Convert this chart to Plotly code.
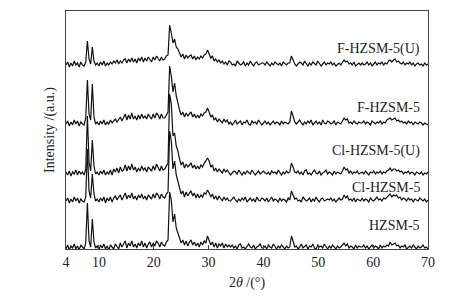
import plotly.graph_objects as go

# XRD patterns sampled every 0.3 deg from 4.0 to 70.0 (221 points), intensity in a.u.
two_theta_start = 4.0
two_theta_step = 0.3

sample_names = ['HZSM-5', 'Cl-HZSM-5', 'Cl-HZSM-5(U)', 'F-HZSM-5', 'F-HZSM-5(U)']

hzsm5 = [
    3, 7, 2, 6, 4, 8, 3, 6, 2, 7, 5, 3, 9, 49, 11, 5, 33, 10, 4, 6,
    2, 7, 4, 8, 3, 6, 2, 7, 5, 3, 8, 6, 3, 9, 5, 8, 11, 4, 9, 6,
    11, 5, 8, 4, 9, 6, 11, 5, 9, 4, 8, 10, 5, 9, 6, 11, 9, 5, 10, 7,
    6, 10, 12, 60, 52, 30, 38, 24, 20, 14, 9, 12, 7, 11, 6, 10, 12, 7, 10, 6,
    9, 5, 10, 7, 11, 9, 16, 11, 7, 10, 5, 9, 4, 8, 6, 9, 4, 8, 5, 7,
    5, 7, 4, 6, 3, 7, 8, 4, 5, 3, 6, 8, 5, 4, 7, 3, 5, 6, 8, 4,
    4, 6, 3, 7, 5, 4, 8, 5, 3, 6, 4, 7, 5, 3, 6, 4, 5, 16, 11, 5,
    6, 3, 5, 8, 4, 6, 7, 3, 6, 5, 8, 4, 3, 7, 5, 6, 4, 8, 5, 3,
    6, 4, 7, 5, 3, 6, 4, 5, 7, 9, 6, 8, 4, 6, 5, 3, 7, 4, 6, 5,
    5, 7, 4, 6, 3, 5, 7, 4, 6, 5, 3, 7, 4, 6, 5, 7, 6, 10, 7, 8,
    9, 6, 7, 4, 6, 5, 7, 3, 5, 6, 4, 7, 5, 3, 6, 4, 5, 7, 4, 5, 3,
]

cl_hzsm5 = [
    4, 7, 2, 6, 3, 8, 4, 7, 2, 6, 4, 3, 8, 56, 14, 7, 31, 11, 4, 6,
    3, 7, 4, 8, 2, 7, 4, 8, 3, 7, 9, 5, 8, 10, 5, 9, 12, 6, 10, 7,
    12, 6, 9, 5, 10, 7, 11, 6, 9, 5, 10, 8, 6, 11, 7, 12, 10, 6, 11, 8,
    7, 11, 13, 74, 64, 36, 44, 30, 24, 17, 11, 14, 8, 13, 9, 12, 14, 9, 12, 7,
    11, 7, 10, 8, 12, 11, 15, 12, 8, 11, 6, 9, 5, 9, 7, 4, 8, 5, 7, 4,
    4, 6, 8, 5, 3, 6, 4, 7, 5, 8, 3, 5, 7, 4, 6, 3, 8, 5, 4, 7,
    6, 4, 7, 3, 5, 8, 4, 6, 5, 3, 7, 4, 6, 5, 3, 7, 5, 14, 10, 6,
    7, 4, 5, 3, 8, 6, 4, 5, 7, 3, 6, 4, 8, 5, 3, 6, 7, 4, 5, 6,
    5, 7, 4, 6, 3, 5, 7, 5, 6, 10, 7, 9, 5, 6, 4, 7, 3, 6, 5, 4,
    7, 4, 6, 5, 3, 7, 5, 4, 6, 8, 5, 6, 4, 7, 6, 8, 9, 11, 8, 10,
    9, 10, 7, 8, 5, 7, 6, 4, 7, 5, 6, 3, 6, 5, 4, 7, 5, 4, 6, 3, 5,
]

cl_hzsm5_u = [
    6, 3, 7, 2, 6, 4, 8, 3, 7, 4, 6, 3, 9, 62, 16, 7, 38, 12, 4, 6,
    3, 7, 4, 8, 3, 6, 4, 8, 3, 9, 6, 10, 5, 11, 7, 8, 13, 7, 12, 8,
    14, 8, 11, 6, 10, 7, 12, 8, 10, 6, 11, 9, 7, 12, 8, 14, 11, 7, 12, 8,
    9, 12, 15, 84, 74, 42, 45, 32, 27, 19, 13, 16, 10, 14, 11, 13, 15, 10, 13, 9,
    12, 9, 13, 11, 15, 17, 20, 17, 11, 13, 7, 10, 6, 9, 7, 5, 9, 6, 8, 5,
    3, 5, 7, 6, 4, 8, 5, 3, 6, 4, 7, 5, 4, 8, 6, 3, 5, 7, 4, 6,
    7, 5, 4, 6, 3, 7, 5, 6, 4, 8, 5, 3, 6, 4, 7, 5, 6, 15, 11, 6,
    5, 7, 4, 6, 3, 7, 8, 4, 5, 3, 6, 8, 5, 4, 7, 3, 5, 6, 8, 4,
    6, 5, 3, 7, 4, 6, 5, 4, 7, 11, 8, 9, 5, 7, 4, 6, 5, 7, 4, 5,
    6, 4, 7, 5, 3, 6, 5, 7, 4, 6, 5, 7, 4, 6, 5, 7, 8, 10, 7, 9,
    9, 7, 8, 6, 7, 4, 6, 5, 7, 4, 6, 5, 3, 6, 5, 4, 6, 3, 5, 4, 6,
]

f_hzsm5 = [
    4, 7, 2, 6, 3, 8, 4, 7, 2, 6, 4, 3, 10, 48, 14, 8, 44, 11, 4, 6,
    3, 7, 4, 8, 3, 6, 4, 8, 5, 7, 9, 6, 9, 11, 7, 10, 14, 8, 13, 9,
    15, 9, 12, 8, 13, 9, 14, 10, 12, 9, 14, 11, 9, 14, 10, 15, 13, 9, 14, 10,
    10, 13, 16, 62, 52, 36, 45, 32, 24, 18, 13, 16, 11, 15, 12, 14, 16, 11, 14, 10,
    13, 10, 14, 12, 15, 16, 20, 16, 11, 13, 8, 10, 6, 9, 7, 5, 9, 6, 8, 4,
    6, 3, 5, 8, 4, 6, 7, 3, 6, 5, 8, 4, 3, 7, 5, 6, 4, 8, 5, 3,
    5, 7, 4, 6, 3, 5, 7, 4, 6, 5, 3, 7, 4, 6, 5, 4, 6, 17, 12, 6,
    4, 6, 8, 5, 3, 6, 4, 7, 5, 8, 3, 5, 7, 4, 6, 3, 8, 5, 4, 7,
    6, 4, 5, 7, 3, 6, 5, 4, 7, 10, 8, 9, 5, 6, 4, 7, 5, 4, 6, 5,
    5, 7, 4, 6, 5, 3, 7, 5, 4, 6, 5, 7, 4, 6, 5, 8, 9, 10, 8, 9,
    10, 7, 8, 6, 7, 5, 6, 4, 7, 5, 6, 3, 6, 5, 4, 6, 5, 3, 5, 4, 3,
]

f_hzsm5_u = [
    4, 7, 2, 6, 3, 8, 4, 6, 2, 7, 4, 3, 7, 28, 10, 5, 22, 8, 4, 6,
    3, 7, 4, 8, 3, 6, 4, 7, 5, 8, 6, 9, 5, 8, 6, 9, 10, 6, 10, 7,
    11, 7, 10, 6, 11, 8, 12, 7, 11, 8, 12, 9, 7, 12, 9, 13, 10, 8, 12, 9,
    10, 13, 14, 44, 36, 26, 30, 22, 20, 16, 12, 15, 10, 14, 11, 13, 14, 10, 13, 9,
    12, 10, 13, 11, 14, 15, 19, 15, 11, 13, 8, 10, 7, 9, 6, 8, 5, 7, 4, 8,
    7, 4, 5, 3, 8, 6, 4, 5, 7, 3, 6, 4, 8, 5, 3, 6, 7, 4, 5, 6,
    6, 4, 7, 5, 3, 6, 4, 7, 5, 4, 6, 3, 7, 5, 4, 6, 6, 13, 9, 5,
    3, 5, 7, 6, 4, 8, 5, 3, 6, 4, 7, 5, 4, 8, 6, 3, 5, 7, 4, 6,
    5, 7, 4, 6, 3, 5, 6, 4, 7, 9, 7, 8, 5, 6, 4, 7, 3, 5, 6, 4,
    6, 4, 5, 7, 4, 6, 3, 5, 7, 4, 6, 5, 7, 4, 6, 5, 8, 9, 7, 9,
    10, 7, 8, 6, 5, 7, 4, 6, 5, 7, 4, 6, 3, 5, 6, 4, 5, 3, 6, 4, 5,
]

patterns = [hzsm5, cl_hzsm5, cl_hzsm5_u, f_hzsm5, f_hzsm5_u]

# vertical stacking offsets and label heights (same units as the y axis)
offsets = [-3, 44, 71, 121, 180]
label_y = [24, 62, 98, 142, 200]

x_ticks = [4, 10, 20, 30, 40, 50, 60, 70]

SERIF = 'Liberation Serif, Times New Roman, serif'
AXIS_COLOR = '#444444'
TEXT_COLOR = '#222222'

fig = go.Figure()

for name, values, off in zip(sample_names, patterns, offsets):
    fig.add_trace(go.Scatter(
        x0=two_theta_start,
        dx=two_theta_step,
        y=[v + off for v in values],
        mode='lines',
        name=name,
        line=dict(color='#111111', width=1.2),
        showlegend=False,
    ))

for name, yl in zip(sample_names, label_y):
    fig.add_annotation(
        x=68.9, y=yl, text=name, showarrow=False,
        xanchor='right', yanchor='middle',
        font=dict(family=SERIF, size=14, color=TEXT_COLOR),
    )

# the page body adds an 8px margin, so the figure is sized to fit what is left
fig.update_layout(
    width=443,
    height=288,
    margin=dict(l=58, r=23, t=3, b=47),
    paper_bgcolor='white',
    plot_bgcolor='white',
    font=dict(family=SERIF, size=13, color=TEXT_COLOR),
    xaxis=dict(
        range=[4, 70],
        tickvals=x_ticks,
        ticks='inside',
        ticklen=4,
        tickcolor=AXIS_COLOR,
        showgrid=False,
        zeroline=False,
        showline=True,
        linecolor=AXIS_COLOR,
        linewidth=1,
        mirror=True,
        tickfont=dict(family=SERIF, size=14, color=TEXT_COLOR),
        title=dict(text='2<i>θ</i> /(°)', standoff=8,
                   font=dict(family=SERIF, size=14, color=TEXT_COLOR)),
    ),
    yaxis=dict(
        range=[0, 238],
        showticklabels=False,
        ticks='',
        showgrid=False,
        zeroline=False,
        showline=True,
        linecolor=AXIS_COLOR,
        linewidth=1,
        mirror=True,
        title=dict(text='Intensity /(a.u.)', standoff=7,
                   font=dict(family=SERIF, size=14, color=TEXT_COLOR)),
    ),
)

fig.write_html("out.html")
